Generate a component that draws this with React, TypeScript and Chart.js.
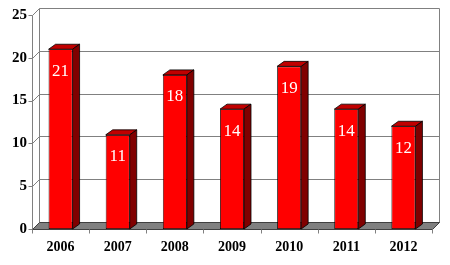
import React, { useEffect, useRef } from 'react';
import { Chart, registerables } from 'chart.js';

Chart.register(...registerables);

const categories = ['2006', '2007', '2008', '2009', '2010', '2011', '2012'];
const values = [21, 11, 18, 14, 19, 14, 12];
const yTickValues = [0, 5, 10, 15, 20, 25];

const WALL_DX = 7;
const WALL_DY = -7;
const BAR_DX = 7;
const BAR_DY = -5;

function line(ctx: CanvasRenderingContext2D, x1: number, y1: number, x2: number, y2: number) {
  ctx.beginPath();
  ctx.moveTo(x1, y1);
  ctx.lineTo(x2, y2);
  ctx.stroke();
}

function poly(ctx: CanvasRenderingContext2D, pts: number[][], fill: string, stroke: string, lw = 1) {
  ctx.beginPath();
  ctx.moveTo(pts[0][0], pts[0][1]);
  for (let i = 1; i < pts.length; i++) ctx.lineTo(pts[i][0], pts[i][1]);
  ctx.closePath();
  ctx.fillStyle = fill;
  ctx.fill();
  ctx.strokeStyle = stroke;
  ctx.lineWidth = lw;
  ctx.stroke();
}

const threeD = {
  id: 'threeD',
  beforeDatasetsDraw(chart: any) {
    const { ctx, chartArea: a, scales } = chart;
    const y = scales.y;
    const L = Math.round(a.left) + 0.5;
    const R = Math.round(a.right) + 0.5;
    const T = Math.round(y.getPixelForValue(yTickValues[yTickValues.length - 1])) + 0.5;
    const B = Math.round(y.getPixelForValue(0)) + 0.5;
    ctx.save();
    ctx.fillStyle = '#ffffff';
    ctx.fillRect(L + WALL_DX, T + WALL_DY, R - L, B - T);
    ctx.strokeStyle = '#808080';
    ctx.lineWidth = 1;
    for (const v of yTickValues) {
      const py = Math.round(y.getPixelForValue(v)) + 0.5;
      line(ctx, L + WALL_DX, py + WALL_DY, R + WALL_DX, py + WALL_DY);
      line(ctx, L, py, L + WALL_DX, py + WALL_DY);
      line(ctx, L - 4, py, L, py);
    }
    line(ctx, L + WALL_DX, T + WALL_DY, L + WALL_DX, B + WALL_DY);
    line(ctx, R + WALL_DX, T + WALL_DY, R + WALL_DX, B + WALL_DY);
    line(ctx, L, T, L, B);
    poly(ctx, [[L, B], [R, B], [R + WALL_DX, B + WALL_DY], [L + WALL_DX, B + WALL_DY]], '#808080', '#404040');
    ctx.strokeStyle = '#808080';
    const n = categories.length;
    for (let k = 0; k <= n; k++) {
      const px = Math.round(a.left + ((a.right - a.left) * k) / n) + 0.5;
      line(ctx, px, B, px, B + 4);
    }
    ctx.restore();
  },
  afterDatasetsDraw(chart: any) {
    const { ctx } = chart;
    const meta = chart.getDatasetMeta(0);
    ctx.save();
    meta.data.forEach((bar: any, i: number) => {
      const left = bar.x - bar.width / 2;
      const right = bar.x + bar.width / 2;
      const top = bar.y;
      const base = bar.base;
      poly(ctx, [[left, top], [left + BAR_DX, top + BAR_DY], [right + BAR_DX, top + BAR_DY], [right, top]], '#c00000', '#000000', 0.8);
      poly(ctx, [[right, top], [right + BAR_DX, top + BAR_DY], [right + BAR_DX, base + BAR_DY], [right, base]], '#800000', '#000000', 0.8);
      ctx.fillStyle = '#ffffff';
      ctx.font = '17px "Liberation Serif", "Times New Roman", serif';
      ctx.textAlign = 'center';
      ctx.textBaseline = 'middle';
      ctx.fillText(String(values[i]), bar.x, top + 22);
    });
    ctx.restore();
  },
};

export default function App() {
  const ref = useRef<HTMLCanvasElement | null>(null);
  useEffect(() => {
    if (!ref.current) return;
    const chart = new Chart(ref.current, {
      type: 'bar',
      data: {
        labels: categories,
        datasets: [
          {
            data: values,
            backgroundColor: '#ff0000',
            borderColor: '#000000',
            borderWidth: 0.8,
            borderSkipped: false,
            barPercentage: 0.84,
            categoryPercentage: 0.5,
          },
        ],
      },
      options: {
        responsive: false,
        animation: false,
        events: [],
        layout: { padding: { left: 0, top: 15, right: 18, bottom: 0 } },
        plugins: { legend: { display: false }, tooltip: { enabled: false } },
        scales: {
          x: {
            grid: { display: false, drawTicks: false },
            border: { display: false },
            ticks: {
              color: '#000000',
              padding: 10,
              font: { family: '"Liberation Serif", "Times New Roman", serif', size: 14, weight: 'bold' },
            },
            afterFit: (s: any) => {
              s.height = 36;
            },
          },
          y: {
            min: 0,
            max: 25,
            grid: { display: false, drawTicks: false },
            border: { display: false },
            ticks: {
              stepSize: 5,
              color: '#000000',
              padding: 5,
              font: { family: '"Liberation Serif", "Times New Roman", serif', size: 15, weight: 'bold' },
            },
            afterFit: (s: any) => {
              s.width = 32;
            },
          },
        },
      },
      plugins: [threeD],
    });
    return () => chart.destroy();
  }, []);
  return (
    <div style={{ position: 'fixed', left: 0, top: 0, width: 450, height: 265, background: '#fff' }}>
      <canvas ref={ref} width={450} height={265} style={{ display: 'block' }} />
    </div>
  );
}
